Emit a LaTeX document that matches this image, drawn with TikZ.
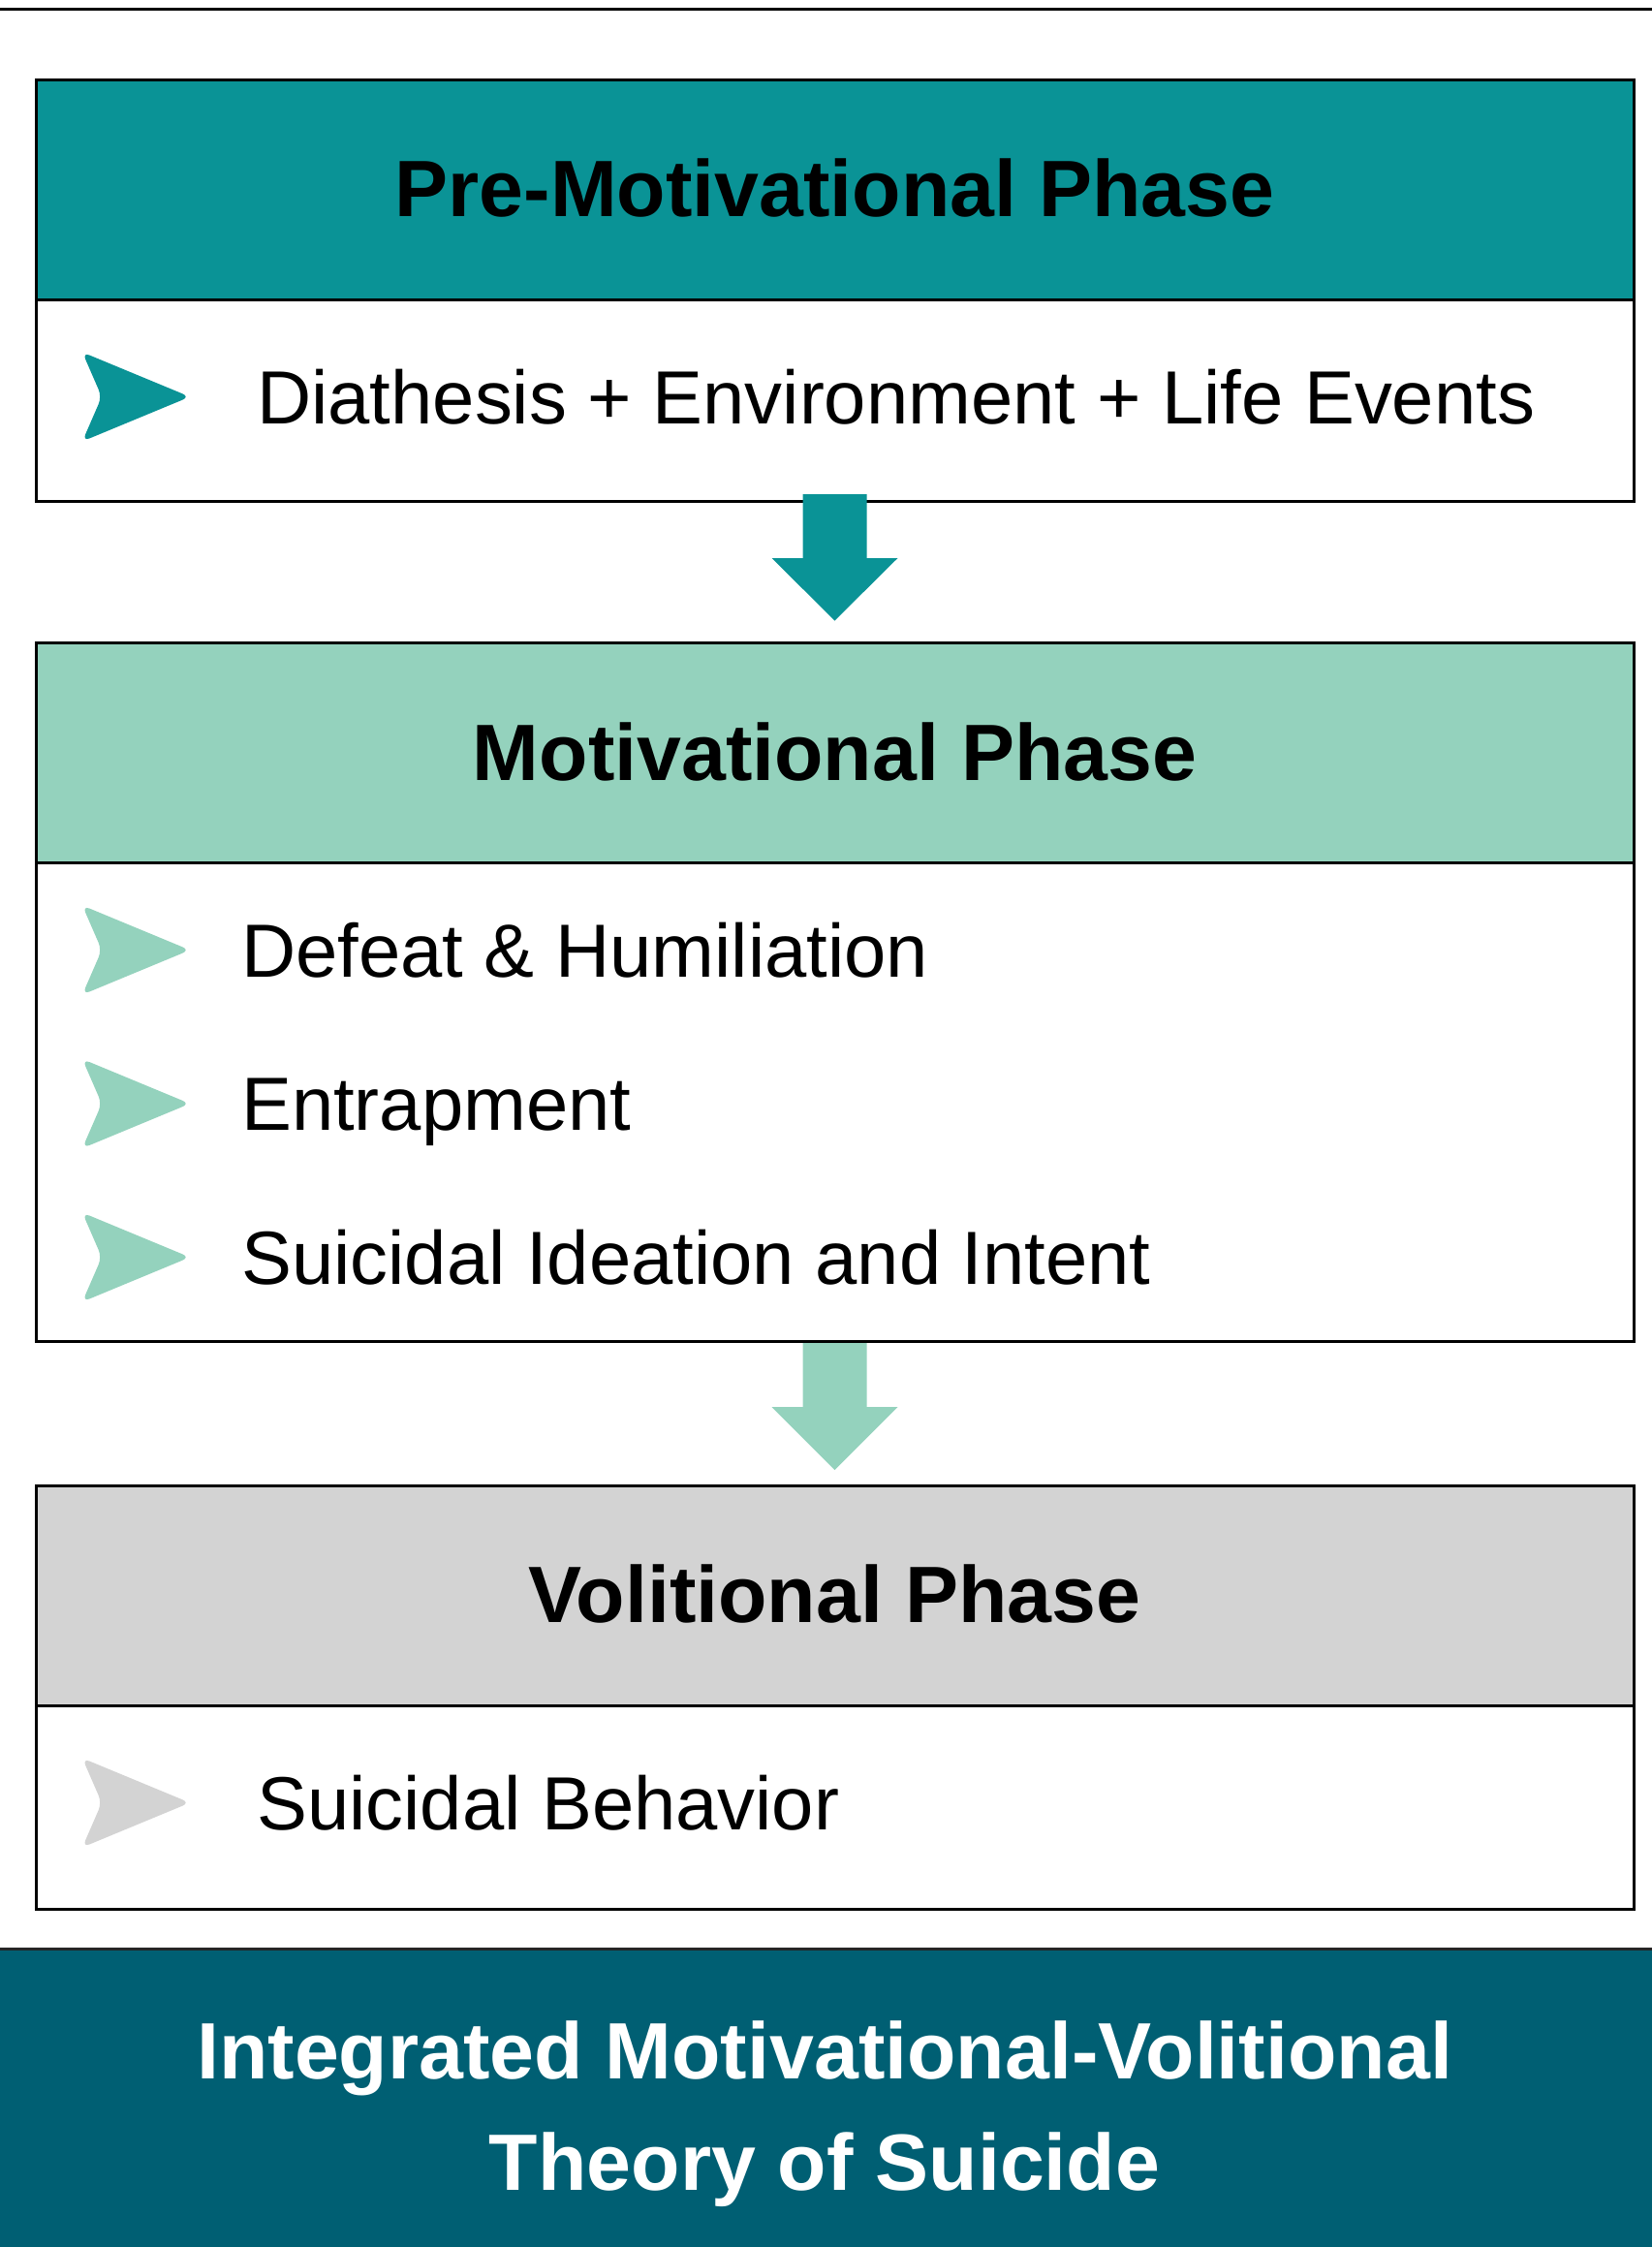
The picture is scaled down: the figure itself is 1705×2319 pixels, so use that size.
\documentclass[tikz,border=0pt]{standalone}
\usepackage{fontspec}
\setmainfont{Liberation Sans}
\usetikzlibrary{calc}
\definecolor{teal1}{HTML}{0A9396}
\definecolor{mint}{HTML}{94D2BD}
\definecolor{lgray}{HTML}{D3D3D3}
\definecolor{deepteal}{HTML}{005F73}

\begin{document}
\begin{tikzpicture}[x=1pt,y=-1pt,
  frame/.style={draw=black, line width=3pt, minimum width=1649pt, inner sep=0pt, outer sep=0pt},
  head/.style={frame, minimum height=227pt},
  bodybox/.style={frame, fill=white},
  htext/.style={anchor=base, inner sep=0pt, font=\fontsize{82.5}{98}\selectfont\bfseries},
  itext/.style={anchor=base west, inner sep=0pt, font=\fontsize{77.8}{93}\selectfont},
  btext/.style={anchor=base, inner sep=0pt, text=white, font=\fontsize{82.5}{98}\selectfont\bfseries},
  pics/chevron/.style={code={\fill[#1, rounded corners=8pt] (-55,-46) -- (56,0) -- (-55,46) -- (-35,0) -- cycle;}}
]
\useasboundingbox (0,0) rectangle (1705,2319);

% top rule
\draw[line width=3pt] (0,9.5) -- (1705,9.5);

% phase 1
\node[head, fill=teal1] (h1) at (861.5,195.5) {};
\node[bodybox, minimum height=208pt] (b1) at (861.5,413) {};
\node[htext] (t1) at (861.5,223) {Pre-Motivational Phase};
\pic at (140,409.5) {chevron=teal1};
\node[itext] (i1) at (265,437) {Diathesis + Environment + Life Events};

% phase 2
\node[head, fill=mint] (h2) at (861.5,777) {};
\node[bodybox, minimum height=494pt] (b2) at (861.5,1137) {};
\node[htext] (t2) at (861.5,805) {Motivational Phase};
\pic at (140,980.5) {chevron=mint};
\node[itext] (i2) at (249,1008) {Defeat \& Humiliation};
\pic at (140,1139) {chevron=mint};
\node[itext] (i3) at (249,1166.5) {Entrapment};
\pic at (140,1297.5) {chevron=mint};
\node[itext] (i4) at (249,1325) {Suicidal Ideation and Intent};

% phase 3
\node[head, fill=lgray] (h3) at (861.5,1646.5) {};
\node[bodybox, minimum height=210pt] (b3) at (861.5,1865) {};
\node[htext] (t3) at (861.5,1674) {Volitional Phase};
\pic at (140,1860.5) {chevron=lgray};
\node[itext] (i5) at (265,1888) {Suicidal Behavior};

% block arrows between phases
\fill[teal1] ($(b1.south)+(-33,-7)$) -- ($(b1.south)+(33,-7)$) -- ($(b1.south)+(33,59)$)
  -- ($(b1.south)+(65,59)$) -- ($(h2.north)+(0,-23)$) -- ($(b1.south)+(-65,59)$)
  -- ($(b1.south)+(-33,59)$) -- cycle;
\fill[mint] ($(b2.south)+(-33,2)$) -- ($(b2.south)+(33,2)$) -- ($(b2.south)+(33,68)$)
  -- ($(b2.south)+(65,68)$) -- ($(h3.north)+(0,-16)$) -- ($(b2.south)+(-65,68)$)
  -- ($(b2.south)+(-33,68)$) -- cycle;

% title banner
\node[fill=deepteal, minimum width=1705pt, minimum height=308pt, inner sep=0pt, outer sep=0pt,
  anchor=north west] (banner) at (0,2011) {};
\draw[line width=3pt, black!85] (banner.north west) -- (banner.north east);
\node[btext] (bt1) at (851,2145) {Integrated Motivational-Volitional};
\node[btext] (bt2) at (851,2260) {Theory of Suicide};
\end{tikzpicture}
\end{document}
